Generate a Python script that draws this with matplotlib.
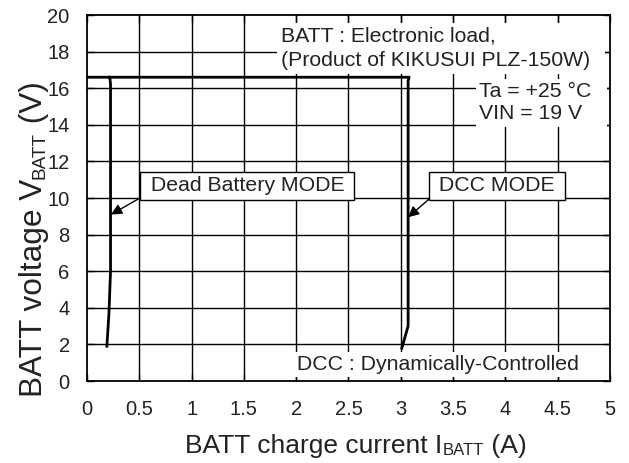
import matplotlib
matplotlib.use('Agg')
import matplotlib.pyplot as plt

plt.rcParams['font.family'] = ['Liberation Sans', 'DejaVu Sans']

# charge characteristics (current in A, voltage in V)
dead_i = [0.19, 0.21, 0.225, 0.225, 0.22, 0.21]
dead_v = [1.9, 3.7, 6.0, 16.2, 16.5, 16.6]
dcc_i = [0.0, 3.08, 3.07, 3.07, 3.05, 3.01]
dcc_v = [16.6, 16.6, 16.4, 3.0, 2.6, 1.8]

x_ticks = [0, 0.5, 1, 1.5, 2, 2.5, 3, 3.5, 4, 4.5, 5]
x_labels = ['0', '0.5', '1', '1.5', '2', '2.5', '3', '3.5', '4', '4.5', '5']
y_ticks = [0, 2, 4, 6, 8, 10, 12, 14, 16, 18, 20]

txt = '#222222'
fs = 15.3

fig = plt.figure(figsize=(6.29, 4.63), dpi=100)
ax = fig.add_axes([0.1383, 0.1771, 0.8315, 0.7905])

ax.set_xlim(0, 5)
ax.set_ylim(0, 20)
ax.set_xticks(x_ticks)
ax.set_xticklabels(x_labels)
ax.set_yticks(y_ticks)
ax.tick_params(direction='in', length=5, width=1, top=True, right=True,
               labelsize=14.5, labelcolor=txt)
ax.tick_params(axis='x', pad=13.5)
ax.tick_params(axis='y', pad=12.5)
for s in ax.spines.values():
    s.set_linewidth(1.3)

# grid drawn by hand so the text backgrounds can sit between grid and ticks
for xv in x_ticks[1:-1]:
    ax.axvline(xv, color='black', linewidth=1.0, zorder=1)
for yv in y_ticks[1:-1]:
    ax.axhline(yv, color='black', linewidth=1.0, zorder=1)

ax.plot(dead_i, dead_v, color='black', linewidth=2.0, zorder=3)
ax.plot(dcc_i, dcc_v, color='black', linewidth=2.0, zorder=3)

# axis titles with small-caps style subscripts, each piece placed after the last
xl = fig.text(185 / 629, 0.0216, 'BATT charge current I', fontsize=19.0,
              color=txt, ha='left', va='baseline')
xs = ax.annotate('BATT', xy=(1, 0), xycoords=xl, fontsize=12.0, color=txt,
                 ha='left', va='bottom', annotation_clip=False)
ax.annotate(' (A)', xy=(1, 0), xycoords=xs, fontsize=19.0, color=txt,
            ha='left', va='bottom', annotation_clip=False)

yl = fig.text(0.0773, 66 / 463, 'BATT voltage V', fontsize=22.7, color=txt,
              rotation=90, ha='right', va='bottom')
ys = ax.annotate('BATT', xy=(1, 1), xycoords=yl, fontsize=13.7, color=txt,
                 rotation=90, ha='right', va='bottom', annotation_clip=False)
ax.annotate(' (V)', xy=(1, 1), xycoords=ys, fontsize=22.7, color=txt,
            rotation=90, ha='right', va='bottom', annotation_clip=False)

box = dict(boxstyle='square,pad=0.2', fc='white', ec='black', lw=1.0)
arrow = dict(arrowstyle='-|>', color='black', lw=1.0, mutation_scale=16,
             shrinkA=0, shrinkB=0)
ax.annotate(' Dead Battery MODE ', xy=(0.23, 9.1), xytext=(0.55, 10.66),
            fontsize=fs, color=txt, va='center', ha='left', bbox=box,
            arrowprops=dict(arrow, relpos=(0, 0)), zorder=5)
ax.annotate(' DCC MODE ', xy=(3.07, 8.95), xytext=(3.31, 10.66),
            fontsize=fs, color=txt, va='center', ha='left', bbox=box,
            arrowprops=dict(arrow, relpos=(0, 0)), zorder=5)

plain = dict(boxstyle='square,pad=0.15', fc='white', ec='none')
ax.text(1.85, 18.17, 'BATT : Electronic load,\n(Product of KIKUSUI PLZ-150W)  ',
        fontsize=fs, color=txt, ha='left', va='center', linespacing=1.38,
        bbox=plain, zorder=2)
ax.text(3.75, 15.2, 'Ta = +25 °C  \nVIN = 19 V', fontsize=fs, color=txt,
        ha='left', va='center', linespacing=1.22, bbox=plain, zorder=2)
ax.text(1.95, 0.9, ' DCC : Dynamically-Controlled     ', fontsize=fs, color=txt,
        ha='left', va='center', bbox=plain, zorder=2)

plt.savefig('out.png', dpi=100)
plt.close()
